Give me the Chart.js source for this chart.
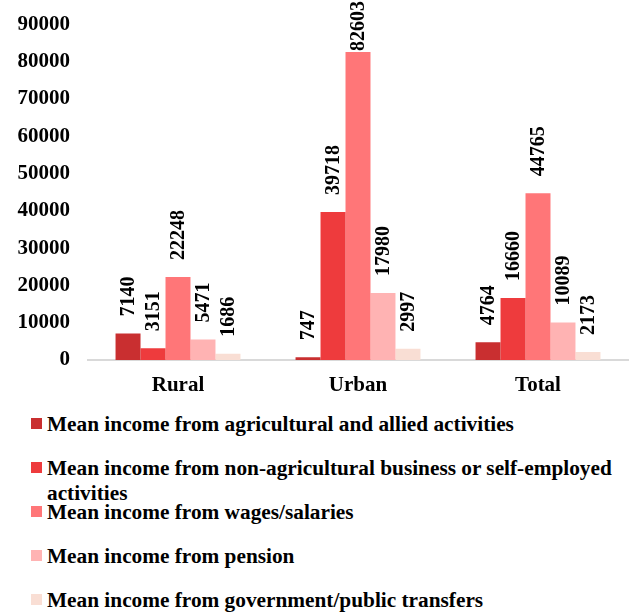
<!DOCTYPE html>
<html>
<head>
<meta charset="utf-8">
<script src="https://cdn.jsdelivr.net/npm/chart.js@4/dist/chart.umd.min.js"></script>
<style>
  body { margin: 0; background: #fff; }
  #wrap { position: relative; width: 629px; height: 615px; overflow: hidden; }
  #chart-box { position: absolute; left: 0; top: 0; width: 629px; height: 400px; }
  .legend-item { position: absolute; left: 31px; width: 590px; display: flex; align-items: flex-start;
    font: bold 21.3px "Liberation Serif", "Times New Roman", serif; line-height: 25px; color: #000; }
  .legend-item .swatch { flex: none; width: 11px; height: 11px; margin-top: 6px; margin-right: 5px; }
</style>
</head>
<body>
<div id="wrap">
  <div id="chart-box"><canvas id="income-chart"></canvas></div>
  <div id="legend"></div>
</div>
<script>
const categories = ['Rural', 'Urban', 'Total'];
const seriesNames = [
    'Mean income from agricultural and allied activities',
    'Mean income from non-agricultural business or self-employed activities',
    'Mean income from wages/salaries',
    'Mean income from pension',
    'Mean income from government/public transfers'
];
const agricultural = [7140, 747, 4764];
const nonAgricultural = [3151, 39718, 16660];
const wages = [22248, 82603, 44765];
const pension = [5471, 17980, 10089];
const transfers = [1686, 2997, 2173];
const yTicks = [0, 10000, 20000, 30000, 40000, 50000, 60000, 70000, 80000, 90000];

const colors = ['#C92F30', '#EE3B3D', '#FF7678', '#FFB3B3', '#F9DED4'];
const allSeries = [agricultural, nonAgricultural, wages, pension, transfers];
const serifFont = '"Liberation Serif", "Times New Roman", serif';

// vertical value labels above each bar
const barLabels = {
    id: 'barLabels',
    afterDatasetsDraw(chart) {
        const ctx = chart.ctx;
        ctx.save();
        ctx.font = 'bold 20px ' + serifFont;
        ctx.fillStyle = '#000';
        ctx.textAlign = 'left';
        ctx.textBaseline = 'middle';
        chart.data.datasets.forEach((ds, i) => {
            chart.getDatasetMeta(i).data.forEach((bar, j) => {
                const text = String(ds.data[j]);
                const w = ctx.measureText(text).width;
                // keep the tallest label inside the canvas
                const bottom = Math.max(bar.y - 17, w + 1);
                ctx.save();
                ctx.translate(bar.x + 0.5, bottom);
                ctx.rotate(-Math.PI / 2);
                ctx.fillText(text, 0, 0);
                ctx.restore();
            });
        });
        ctx.restore();
    }
};

new Chart(document.getElementById('income-chart'), {
    type: 'bar',
    data: {
        labels: categories,
        datasets: allSeries.map((values, i) => ({
            label: seriesNames[i],
            data: values,
            backgroundColor: colors[i],
            borderWidth: 0
        }))
    },
    options: {
        responsive: true,
        maintainAspectRatio: false,
        animation: false,
        categoryPercentage: 0.694,
        barPercentage: 1,
        layout: { padding: { top: 24.5, right: 1, left: 0, bottom: 0 } },
        plugins: { legend: { display: false }, tooltip: { enabled: false } },
        scales: {
            x: {
                grid: { display: false, drawTicks: false },
                border: { display: true, color: '#D9D9D9', width: 2 },
                ticks: {
                    color: '#000',
                    font: { family: serifFont, size: 21, weight: 'bold' },
                    padding: 13
                },
                afterFit(scale) { scale.height = 40; }
            },
            y: {
                min: 0,
                max: 90000,
                grid: { display: false, drawTicks: false },
                border: { display: false },
                afterBuildTicks(scale) { scale.ticks = yTicks.map(v => ({ value: v })); },
                ticks: {
                    color: '#000',
                    font: { family: serifFont, size: 21, weight: 'bold' },
                    padding: 18,
                    callback: v => String(v)
                },
                afterFit(scale) {
                    scale.width = 88;
                    scale.paddingTop = 0;
                    scale.paddingBottom = 0;
                }
            }
        }
    },
    plugins: [barLabels]
});

// legend drawn as html so the long entry can wrap
const legend = document.getElementById('legend');
seriesNames.forEach((name, i) => {
    const item = document.createElement('div');
    item.className = 'legend-item';
    item.style.top = (412 + i * 44) + 'px';
    item.innerHTML = '<span class="swatch" style="background:' + colors[i] + '"></span><span>' + name + '</span>';
    legend.appendChild(item);
});
</script>
</body>
</html>
